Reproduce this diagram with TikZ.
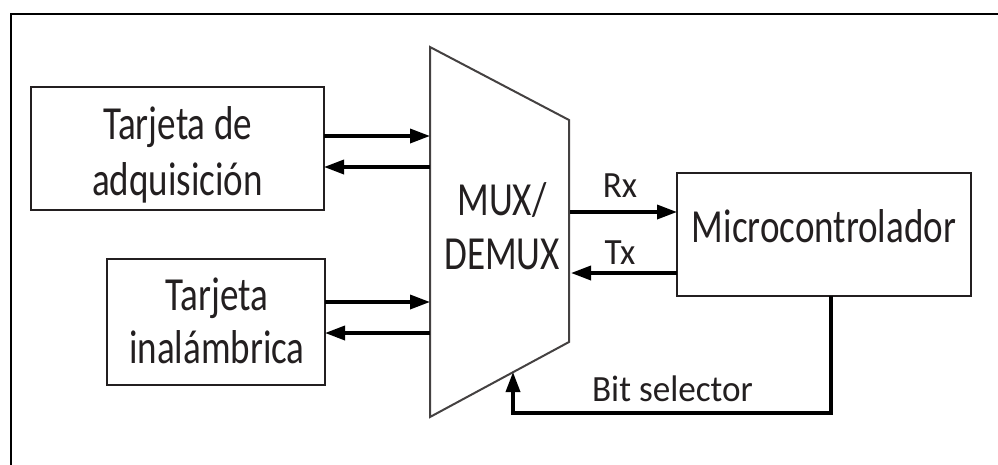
\documentclass[tikz,border=0pt]{standalone}
\usepackage{fontspec}
\setmainfont{Carlito}
\newfontfamily\condfont[FakeStretch=0.78]{Carlito}
\newfontfamily\labfont[FakeStretch=0.95]{Carlito}
\usetikzlibrary{arrows.meta}
\definecolor{ink}{HTML}{231F20}
\begin{document}
\begin{tikzpicture}[x=1pt,y=-1pt,
  box/.style={draw=ink, line width=2.8pt, inner sep=0pt, outer sep=0pt},
  muxline/.style={draw=ink!85, line width=2pt, line join=miter},
  bigtxt/.style={font=\condfont\fontsize{47.5}{56}\selectfont, text=ink, anchor=base, inner sep=0pt},
  labtxt/.style={font=\labfont\fontsize{37}{44}\selectfont, text=ink, anchor=base, inner sep=0pt},
  arr/.style={draw=black, line width=3.5pt, -{Triangle[length=20pt,width=14pt]}},
  wire/.style={draw=black, line width=3.5pt}]
\useasboundingbox (0,0) rectangle (998,464);
% frame (top and left only)
\coordinate (fb) at (11,464);
\coordinate (fc) at (11,14);
\coordinate (fr) at (998,14);
\draw[line width=2.5pt, line cap=rect] (fb) -- (fc) -- (fr);

% boxes
\node[box, minimum width=293pt, minimum height=123pt] (acq) at (177.5,148.5) {};
\node[box, minimum width=218pt, minimum height=126pt] (wl) at (216,322) {};
\node[box, minimum width=294pt, minimum height=123pt] (micro) at (824,234.5) {};

% MUX trapezoid
\coordinate (mtl) at (430,47);
\coordinate (mtr) at (569,120);
\coordinate (mbr) at (569,342);
\coordinate (mbl) at (430,417);
\draw[muxline] (mtl) -- (mtr) -- (mbr) -- (mbl) -- cycle;

% texts
\node[bigtxt] (acq1) at (177.5,139) {Tarjeta de};
\node[bigtxt] (acq2) at (177.5,195) {adquisición};
\node[bigtxt] (wl1) at (217,310) {Tarjeta};
\node[bigtxt] (wl2) at (217,363) {inalámbrica};
\node[bigtxt] (mux1) at (502,215) {MUX/};
\node[bigtxt] (mux2) at (502,269) {DEMUX};
\node[bigtxt] (microtxt) at (824,242) {Microcontrolador};
\node[labtxt] (rx) at (620,197) {Rx};
\node[labtxt] (tx) at (620,264) {Tx};
\node[labtxt] (bitsel) at (672.5,401) {Bit selector};

% arrow anchor points on the MUX
\coordinate (mA) at (430,136);
\coordinate (mB) at (430,167);
\coordinate (mC) at (430,302);
\coordinate (mD) at (430,333);
\coordinate (mR) at (570,212);
\coordinate (mT) at (571,273);
\coordinate (sel) at (513,372);
\coordinate (selturn) at (831,413);

\draw[arr] (acq.east |- mA) -- (mA);
\draw[arr] (mB) -- (acq.east |- mB);
\draw[arr] (wl.east |- mC) -- (mC);
\draw[arr] (mD) -- (wl.east |- mD);
\draw[arr] (mR) -- (micro.west |- mR);
\draw[arr] (micro.west |- mT) -- (mT);
\draw[arr] (micro.south -| selturn) -- (selturn) -| (sel);
\end{tikzpicture}
\end{document}
